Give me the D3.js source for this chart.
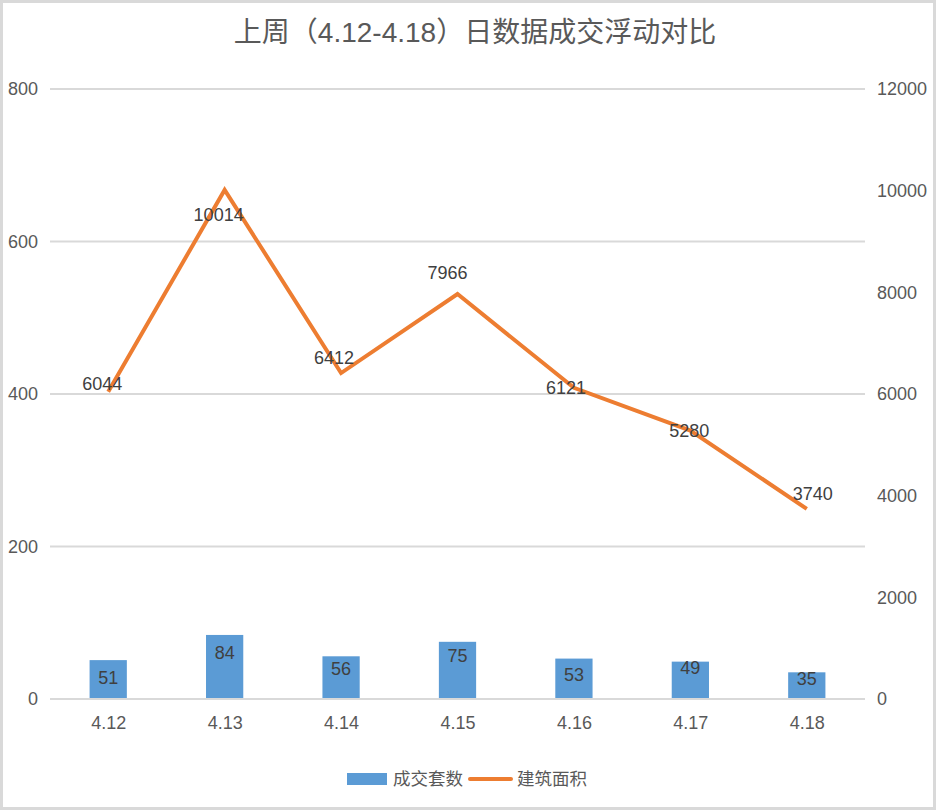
<!DOCTYPE html>
<html><head><meta charset="utf-8">
<script src="https://cdn.jsdelivr.net/npm/d3@7"></script>
<style>
html,body{margin:0;padding:0;background:#fff;}
text{font-family:"Liberation Sans",Arial,"Noto Sans CJK SC",sans-serif;}
</style></head>
<body><svg id="chart" width="936" height="810"></svg>
<script>
const title = "上周（4.12-4.18）日数据成交浮动对比";
const categories = ["4.12","4.13","4.14","4.15","4.16","4.17","4.18"];
const seriesNames = ["成交套数","建筑面积"];
const units = [51,84,56,75,53,49,35];
const area = [6044,10014,6412,7966,6121,5280,3740];
const leftTicks = [0,200,400,600,800];
const rightTicks = [0,2000,4000,6000,8000,10000,12000];
// label nudges (px) relative to each mark
const areaLabelNudge = [[-6,-8],[-6,25],[-7,-15],[-10,-21],[-8,0],[-1,0],[6,-15]];
const unitLabelNudge = [18,18,12,14,16,6,6];

const svg = d3.select("#chart");
const W=936,H=810;
const m={left:50,right:71,top:89,bottom:111};
const x = d3.scaleBand().domain(categories).range([m.left,W-m.right]).paddingInner(0.68).paddingOuter(0.34);
const xc = d3.scalePoint().domain(categories).range([m.left,W-m.right]).padding(0.5);
const yL = d3.scaleLinear().domain([0,800]).range([H-m.bottom,m.top]);
const yR = d3.scaleLinear().domain([0,12000]).range([H-m.bottom,m.top]);

svg.append("rect").attr("x",1.5).attr("y",1.5).attr("width",W-3).attr("height",H-3)
  .attr("fill","#fff").attr("stroke","#d9d9d9").attr("stroke-width",3);

svg.append("text").attr("x",475).attr("y",42).attr("text-anchor","middle")
  .attr("font-size",28).attr("fill","#595959").text(title);

// gridlines
svg.append("g").selectAll("line").data(leftTicks).join("line")
  .attr("x1",m.left).attr("x2",W-m.right)
  .attr("y1",d=>yL(d)).attr("y2",d=>yL(d))
  .attr("stroke","#d9d9d9").attr("stroke-width",2);

// left axis
const gl = svg.append("g").attr("transform",`translate(${m.left},0)`)
  .call(d3.axisLeft(yL).tickValues(leftTicks).tickSize(0).tickPadding(12));
gl.select(".domain").remove();
gl.selectAll("text").attr("font-size",18).attr("fill","#595959").attr("font-family",null);

// right axis
const gr = svg.append("g").attr("transform",`translate(${W-m.right},0)`)
  .call(d3.axisRight(yR).tickValues(rightTicks).tickFormat(d3.format("d")).tickSize(0).tickPadding(12));
gr.select(".domain").remove();
gr.selectAll("text").attr("font-size",18).attr("fill","#595959").attr("font-family",null);

// bottom axis
const gb = svg.append("g").attr("transform",`translate(0,${H-m.bottom})`)
  .call(d3.axisBottom(xc).tickSize(0).tickPadding(17));
gb.select(".domain").remove();
gb.selectAll("text").attr("font-size",18).attr("fill","#595959").attr("font-family",null);

// bars
svg.append("g").selectAll("rect").data(units).join("rect")
  .attr("x",(d,i)=>x(categories[i])).attr("width",x.bandwidth())
  .attr("y",d=>yL(d)).attr("height",d=>yL(0)-yL(d))
  .attr("fill","#5b9bd5");

// baseline over bars
svg.append("line").attr("x1",m.left).attr("x2",W-m.right)
  .attr("y1",yL(0)).attr("y2",yL(0)).attr("stroke","#d9d9d9").attr("stroke-width",2);

// line
const line = d3.line().x((d,i)=>xc(categories[i])).y(d=>yR(d));
svg.append("path").datum(area).attr("d",line).attr("fill","none")
  .attr("stroke","#ed7d31").attr("stroke-width",4).attr("stroke-linejoin","miter");

// bar labels
svg.append("g").selectAll("text").data(units).join("text")
  .attr("x",(d,i)=>xc(categories[i])).attr("y",(d,i)=>yL(d)+unitLabelNudge[i])
  .attr("dy","0.35em").attr("text-anchor","middle").attr("font-size",18).attr("fill","#404040")
  .text(d=>d);

// line labels
svg.append("g").selectAll("text").data(area).join("text")
  .attr("x",(d,i)=>xc(categories[i])+areaLabelNudge[i][0]).attr("y",(d,i)=>yR(d)+areaLabelNudge[i][1])
  .attr("dy","0.35em").attr("text-anchor","middle").attr("font-size",18).attr("fill","#404040")
  .text(d=>d);

// legend
const lg = svg.append("g");
lg.append("rect").attr("x",347).attr("y",773).attr("width",40).attr("height",12).attr("fill","#5b9bd5");
lg.append("text").attr("x",393).attr("y",779).attr("dy","0.35em").attr("font-size",17.5).attr("fill","#595959").text(seriesNames[0]);
lg.append("line").attr("x1",470).attr("x2",511).attr("y1",779).attr("y2",779)
  .attr("stroke","#ed7d31").attr("stroke-width",4).attr("stroke-linecap","round");
lg.append("text").attr("x",517).attr("y",779).attr("dy","0.35em").attr("font-size",17.5).attr("fill","#595959").text(seriesNames[1]);
</script></body></html>
